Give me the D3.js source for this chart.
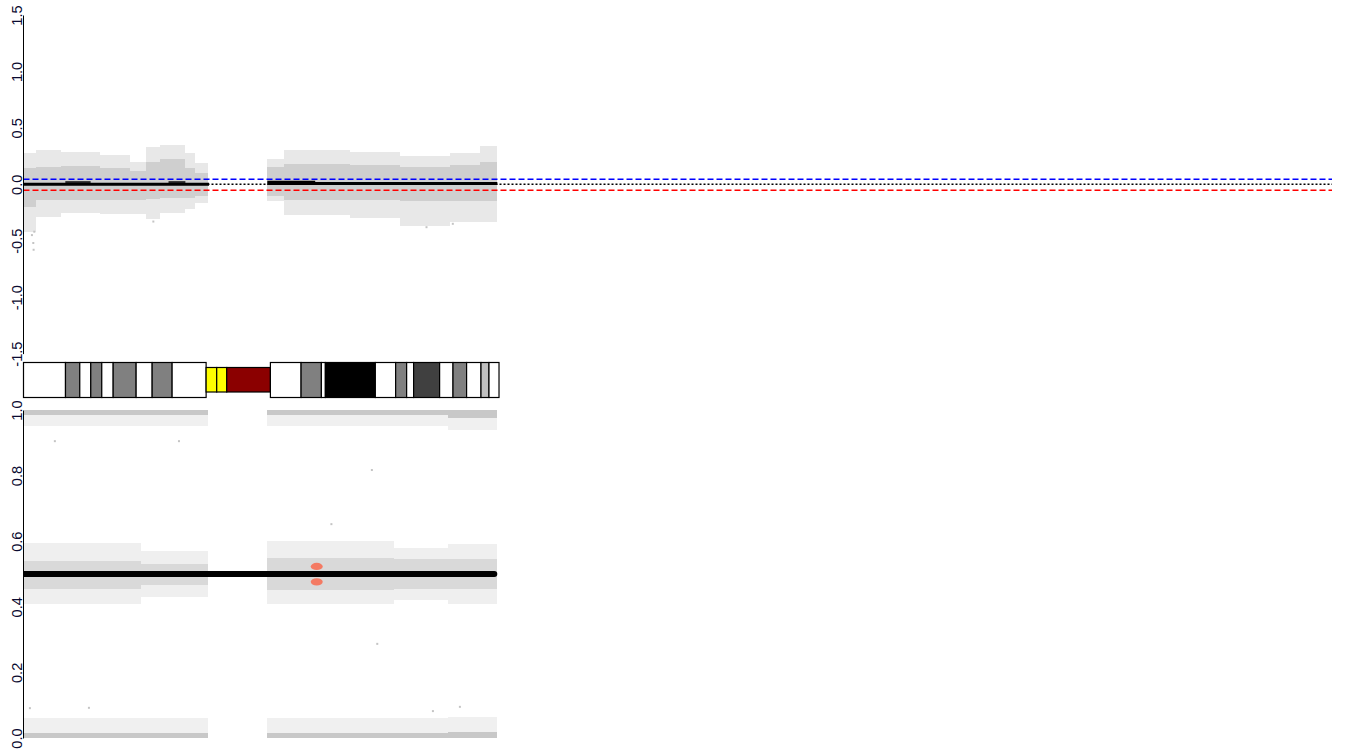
<!DOCTYPE html>
<html><head><meta charset="utf-8">
<script src="https://cdn.jsdelivr.net/npm/d3@7"></script>
<style>html,body{margin:0;padding:0;background:#fff;} svg{display:block;}</style>
</head><body>
<svg id="chart" width="1350" height="750"></svg>
<script>
// ---------------- data ----------------
const plotMaxMb = 388;          // genomic extent of the plotting region (Mb)
const lrTicks = [-1.5, -1, -0.5, 0, 0.5, 1, 1.5];
const lrTickLabels = ["-1.5", "-1.0", "-0.5", "0.0", "0.5", "1.0", "1.5"];
const bafTicks = [0, 0.2, 0.4, 0.6, 0.8, 1];
const bafTickLabels = ["0.0", "0.2", "0.4", "0.6", "0.8", "1.0"];

// ideogram bands (Mb)
const bandStart = [0, 12.45, 16.69, 19.95, 23.21, 26.59, 33.40, 38.15, 44.07, 54.15, 57.29, 60.26,
                   73.21, 82.31, 88.33, 89.51, 104.33, 110.35, 113.61, 115.68, 123.39, 127.36, 131.39, 135.66, 138.03];
const bandEnd   = [12.45, 16.69, 19.95, 23.21, 26.59, 33.40, 38.15, 44.07, 54.15, 57.29, 60.26, 73.21,
                   82.31, 88.33, 89.51, 104.33, 110.35, 113.61, 115.68, 123.39, 127.36, 131.39, 135.66, 138.03, 141.0];
const bandStain = ["gneg", "gpos50", "gneg", "gpos50", "gneg", "gpos50", "gneg", "gpos50", "gneg", "stalk", "stalk", "gvar",
                   "gneg", "gpos50", "gneg", "gpos100", "gneg", "gpos50", "gneg", "gpos75", "gneg", "gpos50", "gneg", "gpos25", "gneg"];

// log2 ratio scatter: per-bin envelope (outer) and dense core
const lrBinStart = [0, 3.6, 11.0, 22.8, 31.7, 36.2, 40.6, 48.0, 51.0, 72.3, 77.1, 96.9, 111.7, 126.6, 135.5];
const lrBinEnd   = [3.6, 11.0, 22.8, 31.7, 36.2, 40.6, 48.0, 51.0, 54.8, 77.1, 96.9, 111.7, 126.6, 135.5, 140.5];
const lrOuterLo  = [-0.42, -0.29, -0.25, -0.26, -0.26, -0.31, -0.25, -0.22, -0.17, -0.15, -0.27, -0.30, -0.37, -0.33, -0.33];
const lrCoreLo   = [-0.20, -0.14, -0.14, -0.14, -0.14, -0.13, -0.12, -0.12, -0.10, -0.10, -0.14, -0.14, -0.15, -0.15, -0.15];
const lrCoreHi   = [0.14, 0.15, 0.16, 0.14, 0.12, 0.20, 0.22, 0.14, 0.10, 0.15, 0.18, 0.17, 0.15, 0.17, 0.20];
const lrOuterHi  = [0.28, 0.30, 0.29, 0.26, 0.20, 0.33, 0.35, 0.28, 0.19, 0.22, 0.30, 0.29, 0.25, 0.28, 0.34];
// isolated log2 ratio points
const lrOutMb  = [3.0, 2.9, 2.5, 3.2, 38.5, 119.5, 127.3];
const lrOutVal = [-0.58, -0.52, -0.45, -0.42, -0.33, -0.38, -0.35];

// segmentation lines (log2 ratio)
const segStart = [0, 72.3];
const segEnd   = [55.0, 140.5];
const segValue = [0.0, 0.008];
const seg2Start = [12.4, 43.0, 72.3, 86.5];
const seg2End   = [19.9, 48.0, 86.5, 95.0];
const seg2Value = [0.02, 0.02, 0.025, 0.012];
// thresholds
const gainThreshold = 0.045;
const lossThreshold = -0.053;
const baseline = 0;

// BAF scatter bins
const bafBinStart = [0, 34.7, 72.3, 110.0, 126.0];
const bafBinEnd   = [34.7, 54.8, 110.0, 126.0, 140.5];
const hetOuterLo  = [0.41, 0.43, 0.41, 0.42, 0.41];
const hetCoreLo   = [0.455, 0.465, 0.45, 0.455, 0.455];
const hetCoreHi   = [0.54, 0.53, 0.55, 0.545, 0.545];
const hetOuterHi  = [0.595, 0.57, 0.60, 0.58, 0.59];
const homHiCoreLo  = [0.985, 0.985, 0.985, 0.985, 0.975];
const homHiOuterLo = [0.95, 0.95, 0.95, 0.95, 0.94];
const homLoCoreHi  = [0.015, 0.015, 0.015, 0.015, 0.018];
const homLoOuterHi = [0.06, 0.06, 0.06, 0.06, 0.065];
// isolated BAF points
const bafOutMb  = [9.3, 46.1, 103.3, 91.3, 104.9, 1.9, 19.4, 129.4, 121.4];
const bafOutVal = [0.905, 0.905, 0.817, 0.652, 0.287, 0.091, 0.092, 0.095, 0.082];
// BAF segment
const bafSegStart = [0];
const bafSegEnd   = [139.6];
const bafSegValue = [0.5];
// allelic imbalance marks
const aiMb  = [86.95, 86.95];
const aiVal = [0.523, 0.476];

// ---------------- drawing ----------------
const svg = d3.select("#chart");
const x = d3.scaleLinear().domain([0, plotMaxMb]).range([23.5, 1332]);
const yLR = d3.scaleLinear().domain([-1.5, 1.5]).range([353.6, 15]);
const yBAF = d3.scaleLinear().domain([0, 1]).range([738, 410]);

const ptColor = "#c4c4c4", outerFill = "#e8e8e8", coreFill = "#cfcfcf";
const FONT = "'Liberation Sans', Arial, sans-serif";

svg.append("defs").append("clipPath").attr("id", "plotclip")
  .append("rect").attr("x", 23.5).attr("y", 0).attr("width", 1330).attr("height", 750);

// ---- top panel: log2 ratio ----
const gTop = svg.append("g");
const lrBins = lrBinStart.map((s, i) => ({s, e: lrBinEnd[i], ol: lrOuterLo[i], cl: lrCoreLo[i], ch: lrCoreHi[i], oh: lrOuterHi[i]}));
gTop.selectAll("rect.outer").data(lrBins).join("rect").attr("class", "outer")
  .attr("x", d => x(d.s)).attr("width", d => x(d.e) - x(d.s))
  .attr("y", d => yLR(d.oh)).attr("height", d => yLR(d.ol) - yLR(d.oh))
  .attr("fill", outerFill).attr("shape-rendering", "crispEdges");
gTop.selectAll("rect.core").data(lrBins).join("rect").attr("class", "core")
  .attr("x", d => x(d.s)).attr("width", d => x(d.e) - x(d.s))
  .attr("y", d => yLR(d.ch)).attr("height", d => yLR(d.cl) - yLR(d.ch))
  .attr("fill", coreFill).attr("shape-rendering", "crispEdges");
gTop.selectAll("rect.pt").data(lrOutMb.map((m, i) => ({m, v: lrOutVal[i]}))).join("rect").attr("class", "pt")
  .attr("x", d => x(d.m) - 1).attr("y", d => yLR(d.v) - 1).attr("width", 2).attr("height", 2).attr("fill", ptColor);

// threshold / baseline lines
const hl = [
  {v: gainThreshold, c: "#0000ff", dash: "6,3", w: 1.5},
  {v: baseline, c: "#000000", dash: "2,2", w: 1.5},
  {v: lossThreshold, c: "#ff0000", dash: "6,3", w: 1.5}
];
gTop.selectAll("line.thr").data(hl).join("line").attr("class", "thr")
  .attr("x1", x(0)).attr("x2", x(plotMaxMb))
  .attr("y1", d => yLR(d.v)).attr("y2", d => yLR(d.v))
  .attr("stroke", d => d.c).attr("stroke-dasharray", d => d.dash).attr("stroke-width", d => d.w);

// segments
gTop.selectAll("line.seg2").data(seg2Start.map((s, i) => ({s, e: seg2End[i], v: seg2Value[i]}))).join("line").attr("class", "seg2")
  .attr("x1", d => x(d.s)).attr("x2", d => x(d.e)).attr("y1", d => yLR(d.v)).attr("y2", d => yLR(d.v))
  .attr("stroke", "#000").attr("stroke-width", 1.5);
gTop.selectAll("line.seg").data(segStart.map((s, i) => ({s, e: segEnd[i], v: segValue[i]}))).join("line").attr("class", "seg")
  .attr("x1", d => x(d.s)).attr("x2", d => x(d.e)).attr("y1", d => yLR(d.v)).attr("y2", d => yLR(d.v))
  .attr("stroke", "#000").attr("stroke-width", 3);

// axis
function styleAxis(g) {
  g.attr("font-family", FONT).attr("font-size", 14.6);
  g.select(".domain").attr("stroke", "#000").attr("stroke-width", 1);
  g.selectAll(".tick text").attr("x", 0).attr("dy", 0).attr("y", -1)
    .attr("transform", "rotate(-90)").attr("text-anchor", "middle").attr("fill", "#0a0a30");
}
svg.append("g").attr("transform", "translate(23,0)")
  .call(d3.axisLeft(yLR).tickValues(lrTicks).tickFormat((d, i) => lrTickLabels[i]).tickSize(0).tickSizeOuter(0))
  .call(styleAxis);

// ---- ideogram ----
const stainColor = {gneg: "#ffffff", gpos25: "#c0c0c0", gpos50: "#808080", gpos75: "#404040", gpos100: "#000000", stalk: "#ffff00", gvar: "#8b0000"};
const ideoTop = 362.5, ideoH = 35, narrowTop = 367.5, narrowH = 24.5;
const bands = bandStart.map((s, i) => ({s, e: bandEnd[i], st: bandStain[i]}));
svg.append("g").selectAll("rect").data(bands).join("rect")
  .attr("x", d => x(d.s)).attr("width", d => x(d.e) - x(d.s))
  .attr("y", d => (d.st === "stalk" || d.st === "gvar") ? narrowTop : ideoTop)
  .attr("height", d => (d.st === "stalk" || d.st === "gvar") ? narrowH : ideoH)
  .attr("fill", d => stainColor[d.st]).attr("stroke", "#000").attr("stroke-width", 1.2);

// ---- bottom panel: BAF ----
const gBot = svg.append("g");
const bafBins = bafBinStart.map((s, i) => ({s, e: bafBinEnd[i]}));
function bandRects(cls, lo, hi, fill) {
  gBot.selectAll("rect." + cls).data(bafBins).join("rect").attr("class", cls)
    .attr("x", d => x(d.s)).attr("width", d => x(d.e) - x(d.s))
    .attr("y", (d, i) => yBAF(hi(i))).attr("height", (d, i) => yBAF(lo(i)) - yBAF(hi(i)))
    .attr("fill", fill).attr("shape-rendering", "crispEdges");
}
bandRects("hetO", i => hetOuterLo[i], i => hetOuterHi[i], "#efefef");
bandRects("hetC", i => hetCoreLo[i], i => hetCoreHi[i], "#d9d9d9");
bandRects("hiO", i => homHiOuterLo[i], () => 1, "#f0f0f0");
bandRects("hiC", i => homHiCoreLo[i], () => 1, "#c8c8c8");
bandRects("loO", () => 0, i => homLoOuterHi[i], "#f0f0f0");
bandRects("loC", () => 0, i => homLoCoreHi[i], "#c8c8c8");
gBot.selectAll("rect.pt").data(bafOutMb.map((m, i) => ({m, v: bafOutVal[i]}))).join("rect").attr("class", "pt")
  .attr("x", d => x(d.m) - 1).attr("y", d => yBAF(d.v) - 1).attr("width", 2).attr("height", 2).attr("fill", ptColor);

gBot.append("g").attr("clip-path", "url(#plotclip)").selectAll("line.bseg")
  .data(bafSegStart.map((s, i) => ({s, e: bafSegEnd[i], v: bafSegValue[i]}))).join("line").attr("class", "bseg")
  .attr("x1", d => x(d.s)).attr("x2", d => x(d.e)).attr("y1", d => yBAF(d.v)).attr("y2", d => yBAF(d.v))
  .attr("stroke", "#000").attr("stroke-width", 6).attr("stroke-linecap", "round");

gBot.selectAll("ellipse.ai").data(aiMb.map((m, i) => ({m, v: aiVal[i]}))).join("ellipse").attr("class", "ai")
  .attr("cx", d => x(d.m)).attr("cy", d => yBAF(d.v)).attr("rx", 6).attr("ry", 3.6)
  .attr("fill", "#f47a63");

svg.append("g").attr("transform", "translate(23,0)")
  .call(d3.axisLeft(yBAF).tickValues(bafTicks).tickFormat((d, i) => bafTickLabels[i]).tickSize(0).tickSizeOuter(0))
  .call(styleAxis);
</script>
</body></html>
